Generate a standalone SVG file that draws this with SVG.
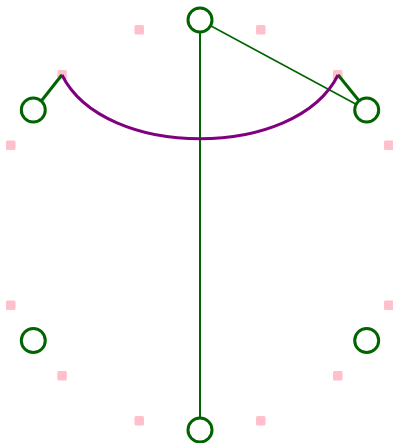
<svg xmlns="http://www.w3.org/2000/svg" width="393" height="443" viewBox="0 0 393 443">
<style>
.node{fill:#fff;stroke:#006400;stroke-width:3}
.handle{fill:#ffc0cb;stroke:none}
.edge{fill:none;stroke:#006400}
.thin{stroke-width:1.6}
.mid{stroke-width:2}
.thick{stroke-width:3}
.arc{fill:none;stroke:#800080;stroke-width:3}
</style>
<rect width="393" height="443" fill="#fff"/>
<g id="handles">
<rect class="handle" x="134.5" y="25" width="9.5" height="9.5" rx="1.5"/>
<rect class="handle" x="256" y="25" width="9.5" height="9.5" rx="1.5"/>
<rect class="handle" x="57.3" y="70" width="9.5" height="9.5" rx="1.5"/>
<rect class="handle" x="333" y="70" width="9.5" height="9.5" rx="1.5"/>
<rect class="handle" x="6" y="140.5" width="9.5" height="9.5" rx="1.5"/>
<rect class="handle" x="384" y="140.5" width="9.5" height="9.5" rx="1.5"/>
<rect class="handle" x="6" y="300.5" width="9.5" height="9.5" rx="1.5"/>
<rect class="handle" x="384" y="300.5" width="9.5" height="9.5" rx="1.5"/>
<rect class="handle" x="57.3" y="371" width="9.5" height="9.5" rx="1.5"/>
<rect class="handle" x="333" y="371" width="9.5" height="9.5" rx="1.5"/>
<rect class="handle" x="134.5" y="416" width="9.5" height="9.5" rx="1.5"/>
<rect class="handle" x="256" y="416" width="9.5" height="9.5" rx="1.5"/>
</g>
<g id="connectors">
<line class="edge mid" x1="200" y1="32" x2="200" y2="418"/>
<line class="edge thin" x1="210.6" y1="25.7" x2="356.1" y2="104.3"/>
<line class="edge thick" x1="41.5" y1="100.8" x2="62" y2="74.8"/>
<line class="edge thick" x1="359" y1="100.8" x2="338" y2="74.8"/>
<path class="arc" d="M62,75 C104,160 296,160 338,75"/>
</g>
<g id="n1"><circle class="node" cx="200" cy="20" r="12"/></g>
<g id="n2"><circle class="node" cx="366.7" cy="110" r="12"/></g>
<g id="n3"><circle class="node" cx="366.7" cy="340.5" r="12"/></g>
<g id="n4"><circle class="node" cx="200" cy="430" r="12"/></g>
<g id="n5"><circle class="node" cx="33.3" cy="340.5" r="12"/></g>
<g id="n6"><circle class="node" cx="33.3" cy="110" r="12"/></g>
</svg>
